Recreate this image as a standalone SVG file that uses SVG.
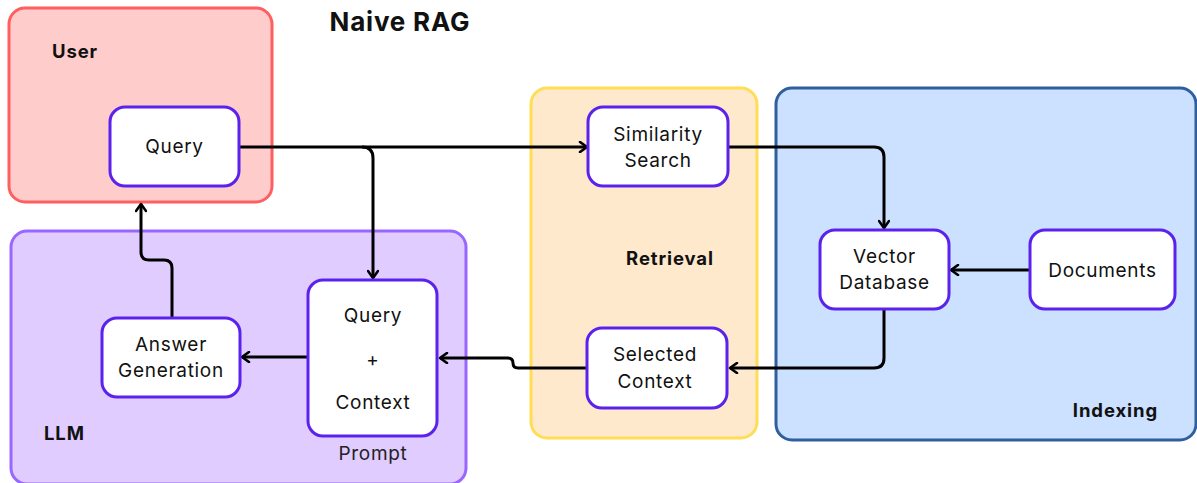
<svg xmlns="http://www.w3.org/2000/svg" width="1197" height="483" viewBox="0 0 1197 483">
  <style>
    .lane { stroke-width: 3; }
    .node rect { fill: #ffffff; stroke: #5b22ee; stroke-width: 3; }
    .lbl { font-family: Inter, "Noto Sans", "Liberation Sans", sans-serif; font-size: 19px; letter-spacing: 0.7px; fill: #111111; text-anchor: middle; }
    .head { font-family: Inter, "Noto Sans", "Liberation Sans", sans-serif; font-weight: 700; font-size: 18.5px; letter-spacing: 0.9px; fill: #111111; }
    .wire { fill: none; stroke: #000000; stroke-width: 3; marker-end: url(#arrow); }
  </style>
  <defs>
    <marker id="arrow" viewBox="0 0 12 12" refX="10" refY="6" markerWidth="12" markerHeight="12" markerUnits="userSpaceOnUse" orient="auto">
      <path d="M3,1 L10,6 L3,11" fill="none" stroke="#000000" stroke-width="2.6" stroke-linecap="round" stroke-linejoin="round"/>
    </marker>
  </defs>

  <rect width="1197" height="483" fill="#ffffff"/>

  <!-- swimlanes -->
  <g id="lane-user">
    <rect class="lane" x="9" y="8" width="263" height="194" rx="16" fill="#ffcccc" stroke="#ff5f5f"/>
    <text class="head" x="52" y="58">User</text>
  </g>
  <g id="lane-llm">
    <rect class="lane" x="11" y="231" width="455" height="253" rx="16" fill="#e0ccff" stroke="#9966ff"/>
    <text class="head" x="44" y="440">LLM</text>
  </g>
  <g id="lane-retrieval">
    <rect class="lane" x="531" y="88" width="226" height="350" rx="16" fill="#ffe9cc" stroke="#ffdd55"/>
    <text class="head" x="670" y="265" text-anchor="middle">Retrieval</text>
  </g>
  <g id="lane-indexing">
    <rect class="lane" x="776" y="88" width="420" height="352" rx="16" fill="#cce0ff" stroke="#2f5f9e"/>
    <text class="head" x="1158" y="417" text-anchor="end">Indexing</text>
  </g>

  <text id="title" x="400" y="31" text-anchor="middle" font-family="Inter, 'Noto Sans', 'Liberation Sans', sans-serif" font-weight="700" font-size="26" letter-spacing="0.8" fill="#111111">Naive RAG</text>

  <!-- connectors -->
  <g id="connectors">
    <path class="wire" d="M240,147 L587,147"/>
    <path class="wire" d="M362,147 Q373,147 373,158 L373,278"/>
    <path class="wire" d="M729,147 L874,147 Q884,147 884,157 L884,228"/>
    <path class="wire" d="M1029,270 L951,270"/>
    <path class="wire" d="M884,310 L884,358 Q884,368 874,368 L730,368"/>
    <path class="wire" d="M587,368 L518,368 Q513,368 513,363 Q513,358 508,358 L440,358"/>
    <path class="wire" d="M308,357 L242,357"/>
    <path class="wire" d="M172,318 L172,268 Q172,260 164,260 L149,260 Q141,260 141,252 L141,204"/>
  </g>

  <!-- nodes -->
  <g id="node-query" class="node">
    <rect x="110" y="107" width="129" height="79" rx="15"/>
    <text class="lbl" x="174.5" y="153">Query</text>
  </g>
  <g id="node-prompt" class="node">
    <rect x="308" y="280" width="129" height="156" rx="15"/>
    <text class="lbl" x="373" y="322">Query</text>
    <text class="lbl" x="373" y="366">+</text>
    <text class="lbl" x="373" y="409">Context</text>
    <text class="lbl" x="373" y="460" style="fill:#222222">Prompt</text>
  </g>
  <g id="node-answer" class="node">
    <rect x="102" y="318" width="138" height="79" rx="15"/>
    <text class="lbl" x="171" y="351">Answer</text>
    <text class="lbl" x="171" y="377">Generation</text>
  </g>
  <g id="node-similarity" class="node">
    <rect x="588" y="107" width="140" height="79" rx="15"/>
    <text class="lbl" x="658" y="141">Similarity</text>
    <text class="lbl" x="658" y="167">Search</text>
  </g>
  <g id="node-selected" class="node">
    <rect x="587" y="328" width="140" height="80" rx="15"/>
    <text class="lbl" x="655" y="361">Selected</text>
    <text class="lbl" x="655" y="388">Context</text>
  </g>
  <g id="node-vectordb" class="node">
    <rect x="820" y="230" width="129" height="79" rx="15"/>
    <text class="lbl" x="884.5" y="263">Vector</text>
    <text class="lbl" x="884.5" y="289">Database</text>
  </g>
  <g id="node-documents" class="node">
    <rect x="1030" y="230" width="145" height="79" rx="15"/>
    <text class="lbl" x="1102.5" y="277">Documents</text>
  </g>
</svg>
